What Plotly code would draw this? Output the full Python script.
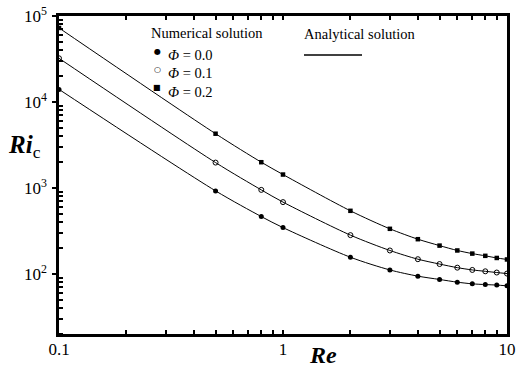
import plotly.graph_objects as go

# ---- data ----
Re = [0.1, 0.5, 0.8, 1, 2, 3, 4, 5, 6, 7, 8, 9, 10]
ri_phi0 = [14000, 923, 464, 345, 156, 111, 94, 86, 80, 76.5, 75, 74, 72.5]
ri_phi1 = [32200, 1970, 948, 683, 282, 187, 148, 130, 118, 111, 107, 103.6, 100.7]
ri_phi2 = [72600, 4270, 1990, 1430, 541, 334, 253, 213, 187, 172, 162, 153, 147]

x_tick_vals = [0.1, 1, 10]
x_tick_text = ["0.1", "1", "10"]
y_tick_vals = [100, 1000, 10000, 100000]
y_tick_text = ["10<sup>2</sup>", "10<sup>3</sup>", "10<sup>4</sup>", "10<sup>5</sup>"]

W, H = 518, 368
L, R, T, B = 59, 11, 16, 34
PW, PH = W - L - R, H - T - B
FONT = "Liberation Serif"


def px(xp):
    return (xp - L) / PW


def py(yp):
    return (H - B - yp) / PH


fig = go.Figure()
series = [
    (ri_phi0, dict(symbol="circle", color="black", size=5)),
    (ri_phi1, dict(symbol="circle-open", color="black", size=5, line=dict(width=1, color="black"))),
    (ri_phi2, dict(symbol="square", color="black", size=4.5)),
]
for vals, mk in series:
    fig.add_trace(go.Scatter(x=Re, y=vals, mode="lines",
                             line=dict(color="black", width=1, shape="spline", smoothing=0.8),
                             showlegend=False, hoverinfo="skip"))
for vals, mk in series:
    fig.add_trace(go.Scatter(x=Re, y=vals, mode="markers", marker=mk,
                             showlegend=False, cliponaxis=False))

# minor tick positions
x_minor = [m * 10 ** e for e in (-1, 0) for m in range(2, 10)]
y_minor = [m * 10 ** e for e in (1, 2, 3, 4) for m in range(2, 10) if m * 10 ** e >= 20]

axis_common = dict(showline=True, linecolor="black", linewidth=2.5, showgrid=False,
                   zeroline=False, tickcolor="black", tickwidth=1.5, automargin=False)

fig.update_xaxes(type="log", range=[-1, 1], tickvals=x_tick_vals + x_minor,
                 ticktext=x_tick_text + [""] * len(x_minor), ticks="inside", ticklen=4,
                 mirror="ticks", tickfont=dict(family=FONT, size=17, color="black"),
                 ticklabelstandoff=-2, **axis_common)
fig.update_yaxes(type="log", range=[1.30, 5], tickvals=y_tick_vals,
                 ticktext=y_tick_text, ticks="outside", ticklen=4,
                 minor=dict(tickvals=y_minor, ticks="inside", ticklen=4, tickwidth=1.5,
                            tickcolor="black", showgrid=False),
                 mirror=True, tickfont=dict(family=FONT, size=17, color="black"),
                 ticklabelstandoff=2, **axis_common)

ann = []
ann.append(dict(x=px(149), y=py(33), text="Numerical solution", xanchor="left", yanchor="middle",
                font=dict(family=FONT, size=14.5, color="black")))
ann.append(dict(x=px(302), y=py(34), text="Analytical solution", xanchor="left", yanchor="middle",
                font=dict(family=FONT, size=14.5, color="black")))
labels = ["0.0", "0.1", "0.2"]
symbols = ["●", "○", "■"]
sym_y = [52, 70, 88]
txt_y = [55, 73, 92]
for lab, s, sy, ty in zip(labels, symbols, sym_y, txt_y):
    ann.append(dict(x=px(157), y=py(sy), text=s, xanchor="center", yanchor="middle",
                    font=dict(family="DejaVu Sans", size=8, color="black")))
    ann.append(dict(x=px(166), y=py(ty), text="<i>Φ</i> = " + lab, xanchor="left", yanchor="middle",
                    font=dict(family=FONT, size=14.5, color="black")))
ann.append(dict(x=px(323), y=py(355), text="<b><i>Re</i></b>", xanchor="center", yanchor="middle",
                font=dict(family=FONT, size=24, color="black")))
ann.append(dict(x=px(24), y=py(146), text="<b><i>Ri</i></b><sub>c</sub>", xanchor="center", yanchor="middle",
                font=dict(family=FONT, size=25, color="black")))
for a in ann:
    a.update(xref="paper", yref="paper", showarrow=False)

fig.update_layout(
    width=W, height=H, margin=dict(l=L, r=R, t=T, b=B, autoexpand=False),
    paper_bgcolor="white", plot_bgcolor="white",
    annotations=ann,
    shapes=[dict(type="line", xref="paper", yref="paper", x0=px(304), x1=px(362),
                 y0=py(55), y1=py(55), line=dict(color="black", width=1.5))],
    showlegend=False,
)

fig.write_html("out.html", config={"displayModeBar": False},
               post_script="document.body.style.margin='0';document.body.style.padding='0';")
